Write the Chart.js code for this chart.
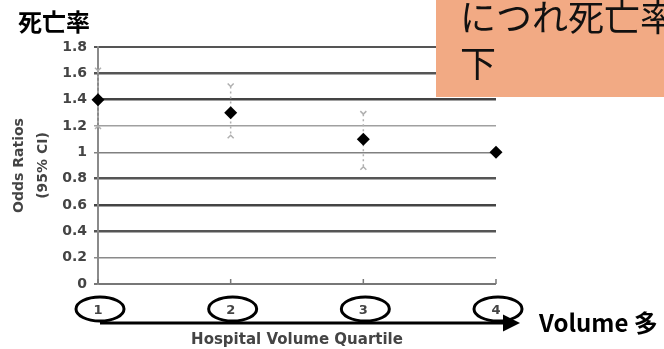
<!DOCTYPE html>
<html><head><meta charset="utf-8">
<script src="https://cdn.jsdelivr.net/npm/chart.js@4.4.0/dist/chart.umd.min.js"></script>
<style>html,body{margin:0;padding:0;background:#fff;overflow:hidden}#wrap{width:664px;height:349px;position:relative}</style>
</head><body><div id="wrap"><canvas id="c" width="664" height="349"></canvas></div>
<script>
// ---- data ----
const quartiles = [1, 2, 3, 4];
const quartileLabels = ['1', '2', '3', '4'];
const oddsRatios = [1.4, 1.3, 1.1, 1.0];
const ciLower = [1.2, 1.13, 0.89, null];
const ciUpper = [1.62, 1.5, 1.29, null];
const yTickValues = [0, 0.2, 0.4, 0.6, 0.8, 1.0, 1.2, 1.4, 1.6, 1.8];
const yTitle = ['Odds Ratios', '(95% CI)'];
const xTitle = 'Hospital Volume Quartile';
const chartTitle = '死亡率';
const arrowLabel = 'Volume 多';
const calloutLines = ['につれ死亡率', '下'];

// ---- styles ----
const gridStyle = {
  '1.8': ['#555', 2], '1.6': ['#555', 2.5], '1.4': ['#444', 2.5], '1.2': ['#a0a0a0', 1.5],
  '1': ['#808080', 1.5], '0.8': ['#555', 2.5], '0.6': ['#444', 2.5], '0.4': ['#555', 2.5],
  '0.2': ['#8a8a8a', 1.5], '0': ['#777', 2]
};
const keyOf = v => String(+(+v).toFixed(1));
const AXISFONT = '"DejaVu Sans", "Liberation Sans", sans-serif';
const CJK = '"Noto Sans CJK JP", sans-serif';

const errorBars = {
  id: 'errorBars',
  beforeDatasetsDraw(chart) {
    const {ctx, scales: {x, y}} = chart;
    ctx.save();
    ctx.strokeStyle = '#b0b0b0';
    ctx.lineWidth = 1.5;
    quartiles.forEach((q, i) => {
      if (ciLower[i] == null) return;
      const px = x.getPixelForValue(q);
      const yl = y.getPixelForValue(ciLower[i]);
      const yu = y.getPixelForValue(ciUpper[i]);
      ctx.setLineDash([2, 3]);
      ctx.beginPath(); ctx.moveTo(px, yu); ctx.lineTo(px, yl); ctx.stroke();
      ctx.setLineDash([]);
      ctx.beginPath();
      ctx.moveTo(px - 3, yu - 3); ctx.lineTo(px, yu); ctx.lineTo(px + 3, yu - 3);
      ctx.moveTo(px - 3, yl + 3); ctx.lineTo(px, yl); ctx.lineTo(px + 3, yl + 3);
      ctx.stroke();
    });
    ctx.restore();
  }
};

const annotations = {
  id: 'annotations',
  afterDraw(chart) {
    const {ctx, scales: {x, y}} = chart;
    ctx.save();
    // small tick marks above the x axis
    ctx.strokeStyle = '#777'; ctx.lineWidth = 1.5;
    quartiles.forEach(q => {
      const px = x.getPixelForValue(q);
      ctx.beginPath(); ctx.moveTo(px, y.bottom); ctx.lineTo(px, y.bottom - 5); ctx.stroke();
    });
    // ellipses around tick labels
    ctx.strokeStyle = '#000'; ctx.lineWidth = 3;
    quartiles.forEach(q => {
      const px = x.getPixelForValue(q) + 2;
      ctx.beginPath(); ctx.ellipse(px, x.top + 25, 24, 12, 0, 0, Math.PI * 2); ctx.stroke();
    });
    // arrow
    const ay = x.top + 39;
    const ax0 = x.getPixelForValue(quartiles[0]) + 2;
    const tip = x.right + 24;
    ctx.lineWidth = 3;
    ctx.beginPath(); ctx.moveTo(ax0, ay); ctx.lineTo(tip - 14, ay); ctx.stroke();
    ctx.fillStyle = '#000';
    ctx.beginPath(); ctx.moveTo(tip, ay); ctx.lineTo(tip - 17, ay - 8.5); ctx.lineTo(tip - 17, ay + 8.5); ctx.closePath(); ctx.fill();
    // arrow label
    ctx.font = 'bold 24px ' + CJK;
    ctx.textBaseline = 'middle'; ctx.textAlign = 'left';
    ctx.fillText(arrowLabel, tip + 19, ay);
    // chart title
    ctx.font = 'bold 24px ' + CJK;
    ctx.fillText(chartTitle, 18, 22);
    // callout box
    ctx.fillStyle = '#F2AA84';
    ctx.fillRect(436, 0, chart.width - 436, 97);
    ctx.fillStyle = '#111';
    ctx.font = '36px ' + CJK;
    calloutLines.forEach((t, i) => ctx.fillText(t, 460, 17 + i * 46));
    ctx.restore();
  }
};

new Chart(document.getElementById('c'), {
  type: 'scatter',
  data: {
    datasets: [{
      data: quartiles.map((q, i) => ({x: q, y: oddsRatios[i]})),
      pointStyle: 'rectRot',
      pointRadius: 6.5,
      pointHoverRadius: 6.5,
      backgroundColor: '#000',
      borderColor: '#000',
      borderWidth: 0,
      showLine: false,
      clip: false
    }]
  },
  options: {
    responsive: false,
    animation: false,
    devicePixelRatio: 1,
    layout: {padding: {left: 0, top: 47, right: 168, bottom: 0}},
    plugins: {legend: {display: false}, tooltip: {enabled: false}, title: {display: false}},
    scales: {
      x: {
        type: 'linear', min: 1, max: 4,
        afterBuildTicks: s => { s.ticks = quartiles.map(v => ({value: v})); },
        afterFit: s => { s.height = 65; },
        grid: {display: false, tickLength: 0, drawTicks: false},
        border: {display: false},
        ticks: {
          callback: (v, i) => quartileLabels[i],
          font: {family: AXISFONT, size: 13, weight: 'bold'},
          color: '#444', padding: 19, maxRotation: 0
        },
        title: {
          display: true, text: xTitle, color: '#444',
          font: {family: AXISFONT, size: 15, weight: 'bold', lineHeight: '18px'},
          padding: {top: 0, bottom: 0}
        }
      },
      y: {
        min: 0, max: 1.8,
        afterBuildTicks: s => { s.ticks = yTickValues.map(v => ({value: v})); },
        afterFit: s => { s.width = 98; },
        grid: {
          color: c => (gridStyle[keyOf(c.tick.value)] || ['#555'])[0],
          lineWidth: c => (gridStyle[keyOf(c.tick.value)] || [0, 2])[1],
          tickLength: 4, drawTicks: true
        },
        border: {display: true, color: '#8a8a8a', width: 2},
        ticks: {
          callback: v => keyOf(v),
          font: {family: AXISFONT, size: 14, weight: 'bold'},
          color: '#444', padding: 7
        },
        title: {
          display: true, text: yTitle, color: '#444',
          font: {family: AXISFONT, size: 14, weight: 'bold', lineHeight: '24px'},
          padding: {top: 7, bottom: 0}
        }
      }
    }
  },
  plugins: [errorBars, annotations]
});
</script></body></html>
